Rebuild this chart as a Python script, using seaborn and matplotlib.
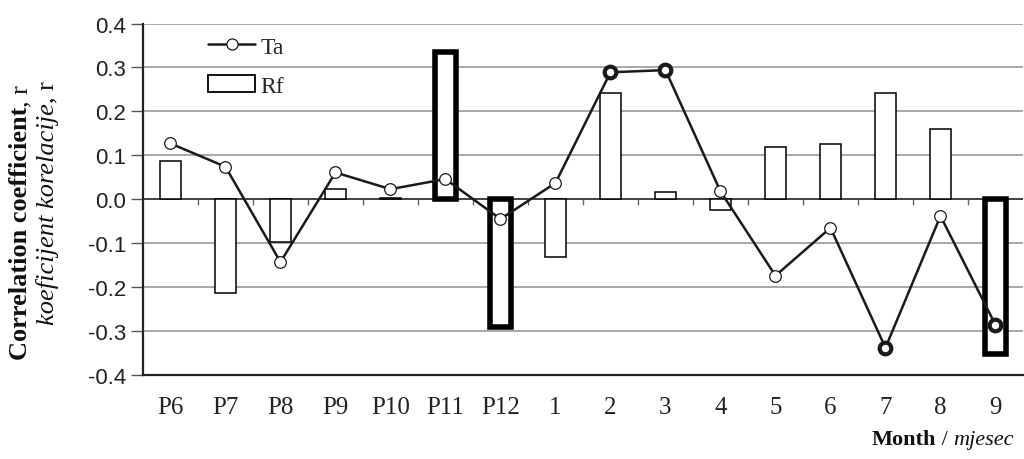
import matplotlib
matplotlib.use('Agg')
import matplotlib.pyplot as plt
import seaborn as sns
import numpy as np
import pandas as pd
from matplotlib.lines import Line2D
from matplotlib.patches import Patch

# data
months = ['P6', 'P7', 'P8', 'P9', 'P10', 'P11', 'P12', '1', '2', '3', '4', '5', '6', '7', '8', '9']
rf = [0.087, -0.213, -0.098, 0.024, 0.003, 0.336, -0.291, -0.132,
      0.242, 0.017, -0.025, 0.118, 0.125, 0.242, 0.160, -0.352]
ta = [0.127, 0.074, -0.143, 0.061, 0.023, 0.046, -0.045, 0.037,
      0.289, 0.294, 0.018, -0.174, -0.065, -0.338, -0.038, -0.286]
rf_sig = ['P11', 'P12', '9']
ta_sig = ['2', '3', '7', '9']
yticks = [-0.4, -0.3, -0.2, -0.1, 0.0, 0.1, 0.2, 0.3, 0.4]

df = pd.DataFrame({'Month': months, 'Rf': rf, 'Ta': ta})

sns.set_style('white')
plt.rcParams['font.family'] = ['Liberation Serif', 'DejaVu Serif']

fig = plt.figure(figsize=(10.24, 4.6), dpi=100)
ax = fig.add_axes([0.1396, 0.1826, 0.8594, 0.7641])

sns.barplot(data=df, x='Month', y='Rf', color='white', edgecolor='black',
            linewidth=1.1, width=0.39, saturation=1, ax=ax, zorder=2)
for patch, m in zip(ax.patches, months):
    if m in rf_sig:
        patch.set_linewidth(4.0)

pos = np.arange(len(months))
ax.plot(pos, df['Ta'], color='#1a1a1a', lw=1.8, zorder=3)
sig_mask = df['Month'].isin(ta_sig).to_numpy()
ax.scatter(pos[~sig_mask], df['Ta'][~sig_mask], s=70, facecolor='white',
           edgecolor='#1a1a1a', linewidth=0.9, zorder=4)
ax.scatter(pos[sig_mask], df['Ta'][sig_mask], s=70, facecolor='white',
           edgecolor='#1a1a1a', linewidth=3.0, zorder=4)

ax.set_ylim(-0.4, 0.4)
ax.set_xlim(-0.5, len(months) - 0.5)
ax.set_yticks(yticks)
ax.set_yticklabels([f'{v:.1f}' for v in yticks],
                   family='Liberation Sans', fontsize=16, color='#222222')
ax.tick_params(axis='y', direction='out', length=9, width=1, color='#555555', pad=3, left=True)
ax.tick_params(axis='x', length=0, pad=15, labelsize=18, labelcolor='#222222')
ax.grid(axis='y', color='#a8a8a8', lw=1.4, zorder=0)
ax.set_axisbelow(True)
ax.set_xlabel('')
ax.set_ylabel('')
for s in ['top', 'right']:
    ax.spines[s].set_visible(False)
ax.spines['left'].set_color('#222222')
ax.spines['left'].set_linewidth(1.6)
ax.spines['bottom'].set_color('#222222')
ax.spines['bottom'].set_linewidth(1.6)

# zero axis with category separator ticks
ax.axhline(0, color='#333333', lw=1.2, zorder=1)
ax.vlines(pos[:-1] + 0.5, -0.012, 0, color='#666666', lw=1, zorder=1)

handles = [Line2D([0], [0], color='#1a1a1a', lw=1.8, marker='o', markersize=8,
                  markerfacecolor='white', markeredgewidth=0.9),
           Patch(facecolor='white', edgecolor='black', linewidth=1.3)]
ax.legend(handles, ['Ta', 'Rf'], loc='upper left', bbox_to_anchor=(0.05, 1.025),
          frameon=False, fontsize=17, handlelength=2.0, handletextpad=0.2,
          labelspacing=0.75)

# composite axis titles
fig.canvas.draw()
r = fig.canvas.get_renderer()

def chain_up(x, y, parts, size):
    for txt, w, st in parts:
        t = fig.text(x, y, txt, rotation=90, ha='center', va='bottom',
                     fontsize=size, fontweight=w, fontstyle=st, color='#111111')
        bb = t.get_window_extent(r)
        y = bb.y1 / fig.bbox.height

def chain_left(x, y, parts, size):
    for txt, w, st in reversed(parts):
        t = fig.text(x, y, txt, ha='right', va='center',
                     fontsize=size, fontweight=w, fontstyle=st, color='#111111')
        bb = t.get_window_extent(r)
        x = bb.x0 / fig.bbox.width

chain_up(0.0205, 0.217, [('Correlation coefficient', 'bold', 'normal'),
                         (', r', 'normal', 'normal')], 19)
chain_up(0.046, 0.293, [('koeficijent korelacije', 'normal', 'italic'),
                        (', r', 'normal', 'normal')], 19)
chain_left(0.990, 0.043, [('Month', 'bold', 'normal'), (' / ', 'normal', 'normal'),
                          ('mjesec', 'normal', 'italic')], 16)

fig.savefig('out.png', dpi=100)
